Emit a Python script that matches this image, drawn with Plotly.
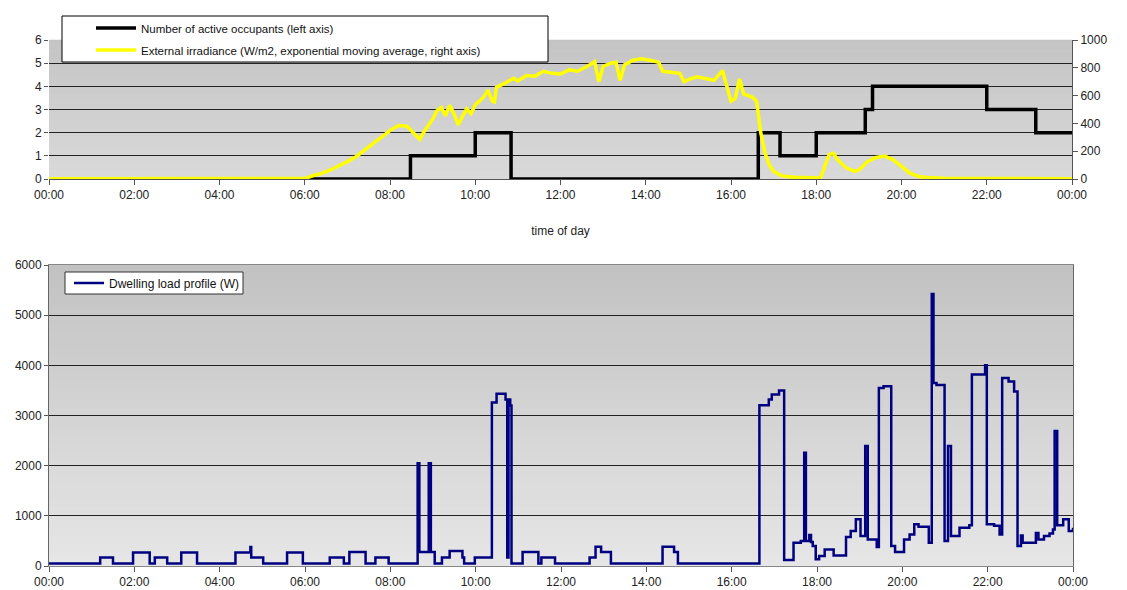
import plotly.graph_objects as go

# ---------------- data ----------------
tick_hours = [0, 2, 4, 6, 8, 10, 12, 14, 16, 18, 20, 22, 24]
tick_labels = ["00:00", "02:00", "04:00", "06:00", "08:00", "10:00", "12:00",
               "14:00", "16:00", "18:00", "20:00", "22:00", "00:00"]

occ_t = [0, 8.48, 10.0, 10.84, 16.64, 17.15, 18.0, 19.15, 19.32, 22.0, 23.15, 24]
occ_v = [0, 1, 2, 0, 2, 1, 2, 3, 4, 3, 2, 2]

irr_t = [0, 1, 2, 3, 4, 5, 6.0, 6.2, 6.4, 6.6, 6.8, 7.0, 7.2, 7.4, 7.6, 7.8, 7.9,
         8.0, 8.2, 8.4, 8.5, 8.6, 8.7, 8.8, 9.0, 9.1, 9.2, 9.3, 9.4, 9.5, 9.6,
         9.7, 9.8, 9.9, 10.0, 10.1, 10.2, 10.3, 10.4, 10.45, 10.5, 10.7, 10.9,
         11.0, 11.2, 11.4, 11.6, 11.8, 12.0, 12.2, 12.4, 12.6, 12.8, 12.9, 13.0,
         13.2, 13.3, 13.4, 13.5, 13.7, 13.9, 14.1, 14.3, 14.4, 14.6, 14.8, 14.9,
         15.0, 15.2, 15.4, 15.6, 15.8, 15.9, 16.0, 16.1, 16.2, 16.3, 16.5, 16.6,
         16.7, 16.8, 16.9, 17.0, 17.2, 17.5, 18.0, 18.1, 18.2, 18.3, 18.4, 18.5,
         18.7, 18.9, 19.0, 19.2, 19.4, 19.6, 19.8, 20.0, 20.2, 20.4, 20.6, 21.0,
         22, 23, 24]
irr_v = [2, 3, 2, 3, 2, 2, 3, 25, 40, 65, 94, 125, 160, 205, 250, 295, 325,
         350, 385, 380, 350, 320, 285, 340, 430, 490, 515, 455, 530, 470, 390,
         450, 505, 470, 535, 560, 590, 640, 560, 555, 660, 690, 725,
         705, 745, 740, 775, 760, 755, 785, 775, 805, 845, 700, 810,
         835, 840, 710, 820, 855, 865, 855, 840, 775, 770, 760, 700,
         715, 735, 720, 710, 780, 680, 560, 580, 720, 610, 590, 560,
         330, 185, 100, 55, 22, 12, 5, 8, 90, 175, 185, 140,
         80, 55, 65, 125, 155, 165, 140, 90, 42, 18, 10, 5,
         3, 2, 2]

load_t = [0, 1.2, 1.5, 1.97, 2.36, 2.48, 2.77, 3.1, 3.47, 4.37, 4.72, 4.74, 5.02,
          5.58, 5.95, 6.58, 6.91, 7.04, 7.42, 7.65, 7.96, 8.64, 8.68, 8.90, 8.95,
          9.04, 9.21, 9.39, 9.69, 9.73, 9.98, 10.38, 10.49, 10.70, 10.74, 10.77,
          10.81, 10.84, 11.1, 11.47, 11.54, 11.86, 12.67, 12.81, 12.94, 13.17,
          14.38, 14.65, 14.74, 16.65, 16.87, 16.94, 17.11, 17.23, 17.45, 17.62,
          17.70, 17.74, 17.82, 17.86, 17.90, 17.97, 18.05, 18.18, 18.39, 18.68,
          18.79, 18.91, 19.02, 19.13, 19.19, 19.40, 19.45, 19.56, 19.74, 19.83,
          20.04, 20.17, 20.28, 20.38, 20.62, 20.69, 20.73, 20.80, 20.99, 21.07,
          21.14, 21.34, 21.57, 21.63, 21.94, 21.98, 22.15, 22.28, 22.34, 22.49,
          22.62, 22.70, 22.78, 22.82, 23.13, 23.19, 23.32, 23.45, 23.53, 23.57,
          23.63, 23.77, 23.90, 24.0]
load_v = [50, 170, 50, 270, 50, 170, 50, 270, 50, 270, 380, 170, 50,
          270, 50, 170, 50, 280, 50, 170, 50, 2050, 280, 2050, 280,
          50, 170, 300, 170, 50, 170, 3260, 3435, 3320, 170, 3320,
          3200, 50, 280, 50, 170, 50, 170, 385, 280, 50,
          385, 280, 50, 3205, 3318, 3417, 3500, 120, 465, 500,
          2256, 500, 617, 480, 400, 133, 200, 330, 210, 580,
          700, 930, 600, 2390, 530, 380, 3550, 3583, 400, 280,
          530, 630, 830, 780, 465, 5420, 3650, 3610, 500, 2390,
          600, 760, 810, 3815, 4000, 830, 800, 630, 3750, 3680,
          3480, 400, 610, 465, 660, 530, 600, 650, 730, 2690,
          810, 930, 700, 760]

# ---------------- layout geometry ----------------
# page body has an 8px margin; figure is sized so it ends at the window edge
OFF = 8
W, H = 1127 - OFF, 590 - OFF
px = lambda v: (v - OFF) / W
py = lambda v: 1 - (v - OFF) / H

top_x = [px(49), px(1072)]
top_y = [py(179), py(40)]
bot_x = [px(49), px(1073)]
bot_y = [py(566), py(265)]

FONT = "Liberation Sans, Arial, sans-serif"

fig = go.Figure()
fig.add_trace(go.Scatter(
    x=occ_t, y=occ_v, mode="lines", name="Number of active occupants (left axis)",
    line=dict(color="black", width=3.5, shape="hv"), xaxis="x", yaxis="y",
    legend="legend"))
fig.add_trace(go.Scatter(
    x=irr_t, y=irr_v, mode="lines",
    name="External irradiance (W/m2, exponential moving average, right axis)",
    line=dict(color="#ffff00", width=3.5), xaxis="x", yaxis="y2",
    legend="legend2"))
fig.add_trace(go.Scatter(
    x=load_t, y=load_v, mode="lines", name="Dwelling load profile (W)",
    line=dict(color="#000080", width=2.5, shape="hv"), xaxis="x2", yaxis="y3",
    legend="legend3"))

# gradient backgrounds via stacked strips
shapes = []
N = 40
def grad(xref, yref, c_top, c_bot):
    for i in range(N):
        f = (i + 0.5) / N
        c = round(c_bot + (c_top - c_bot) * f)
        shapes.append(dict(type="rect", xref=xref, yref=yref, x0=0, x1=1,
                           y0=i / N, y1=(i + 1) / N + 0.002, layer="below",
                           line=dict(width=0), fillcolor=f"rgb({c},{c},{c})"))
grad("x domain", "y domain", 196, 218)
grad("x2 domain", "y3 domain", 194, 230)

# legend boxes
shapes.append(dict(type="rect", xref="paper", yref="paper",
                   x0=px(62), x1=px(548), y0=py(62), y1=py(16),
                   fillcolor="white", line=dict(color="black", width=1), layer="above"))
shapes.append(dict(type="rect", xref="paper", yref="paper",
                   x0=px(65), x1=px(243), y0=py(294), y1=py(272),
                   fillcolor="white", line=dict(color="#333", width=1), layer="above"))

axis_common = dict(
    tickfont=dict(family=FONT, size=12, color="#222"),
    zeroline=False,
    automargin=False,
)

leg_common = dict(bgcolor="rgba(0,0,0,0)", borderwidth=0,
                  xanchor="left", yanchor="middle")

fig.update_layout(
    width=W, height=H,
    margin=dict(l=0, r=0, t=0, b=0, pad=0, autoexpand=False),
    paper_bgcolor="white",
    plot_bgcolor="rgb(210,210,210)",
    font=dict(family=FONT, size=12, color="#222"),
    showlegend=True,
    shapes=shapes,
    xaxis=dict(domain=top_x, range=[0, 24], anchor="y",
               tickmode="array", tickvals=tick_hours, ticktext=tick_labels,
               showgrid=False, showline=True, linecolor="#555", linewidth=1,
               ticks="outside", ticklen=5, tickcolor="#555",
               title=dict(text="time of day", standoff=25,
                          font=dict(family=FONT, size=12, color="#222")),
               **axis_common),
    yaxis=dict(domain=top_y, range=[0, 6], dtick=1, anchor="x",
               showgrid=True, gridcolor="#222", gridwidth=1,
               showline=False, ticks="outside", ticklen=4, tickcolor="#555",
               **axis_common),
    yaxis2=dict(overlaying="y", side="right", anchor="x", range=[0, 1000], dtick=200,
                showgrid=False, showline=True, linecolor="#555",
                ticks="outside", ticklen=5, tickcolor="#555",
                **axis_common),
    xaxis2=dict(domain=bot_x, range=[0, 24], anchor="y3",
                tickmode="array", tickvals=tick_hours, ticktext=tick_labels,
                showgrid=False, showline=True, linecolor="#888", linewidth=1,
                mirror=True,
                ticks="outside", ticklen=5, tickcolor="#555",
                **axis_common),
    yaxis3=dict(domain=bot_y, range=[0, 6000], dtick=1000, anchor="x2",
                showgrid=True, gridcolor="#222", gridwidth=1,
                showline=True, linecolor="#666", mirror=True,
                ticks="outside", ticklen=4, tickcolor="#555",
                **axis_common),
    legend=dict(x=px(91), y=py(28), itemwidth=40,
                font=dict(family=FONT, size=11.5, color="#111"), **leg_common),
    legend2=dict(x=px(91), y=py(50), itemwidth=40,
                 font=dict(family=FONT, size=11.5, color="#111"), **leg_common),
    legend3=dict(x=px(69), y=py(283), itemwidth=30,
                 font=dict(family=FONT, size=12, color="#111"), **leg_common),
)

fig.write_html("out.html")
